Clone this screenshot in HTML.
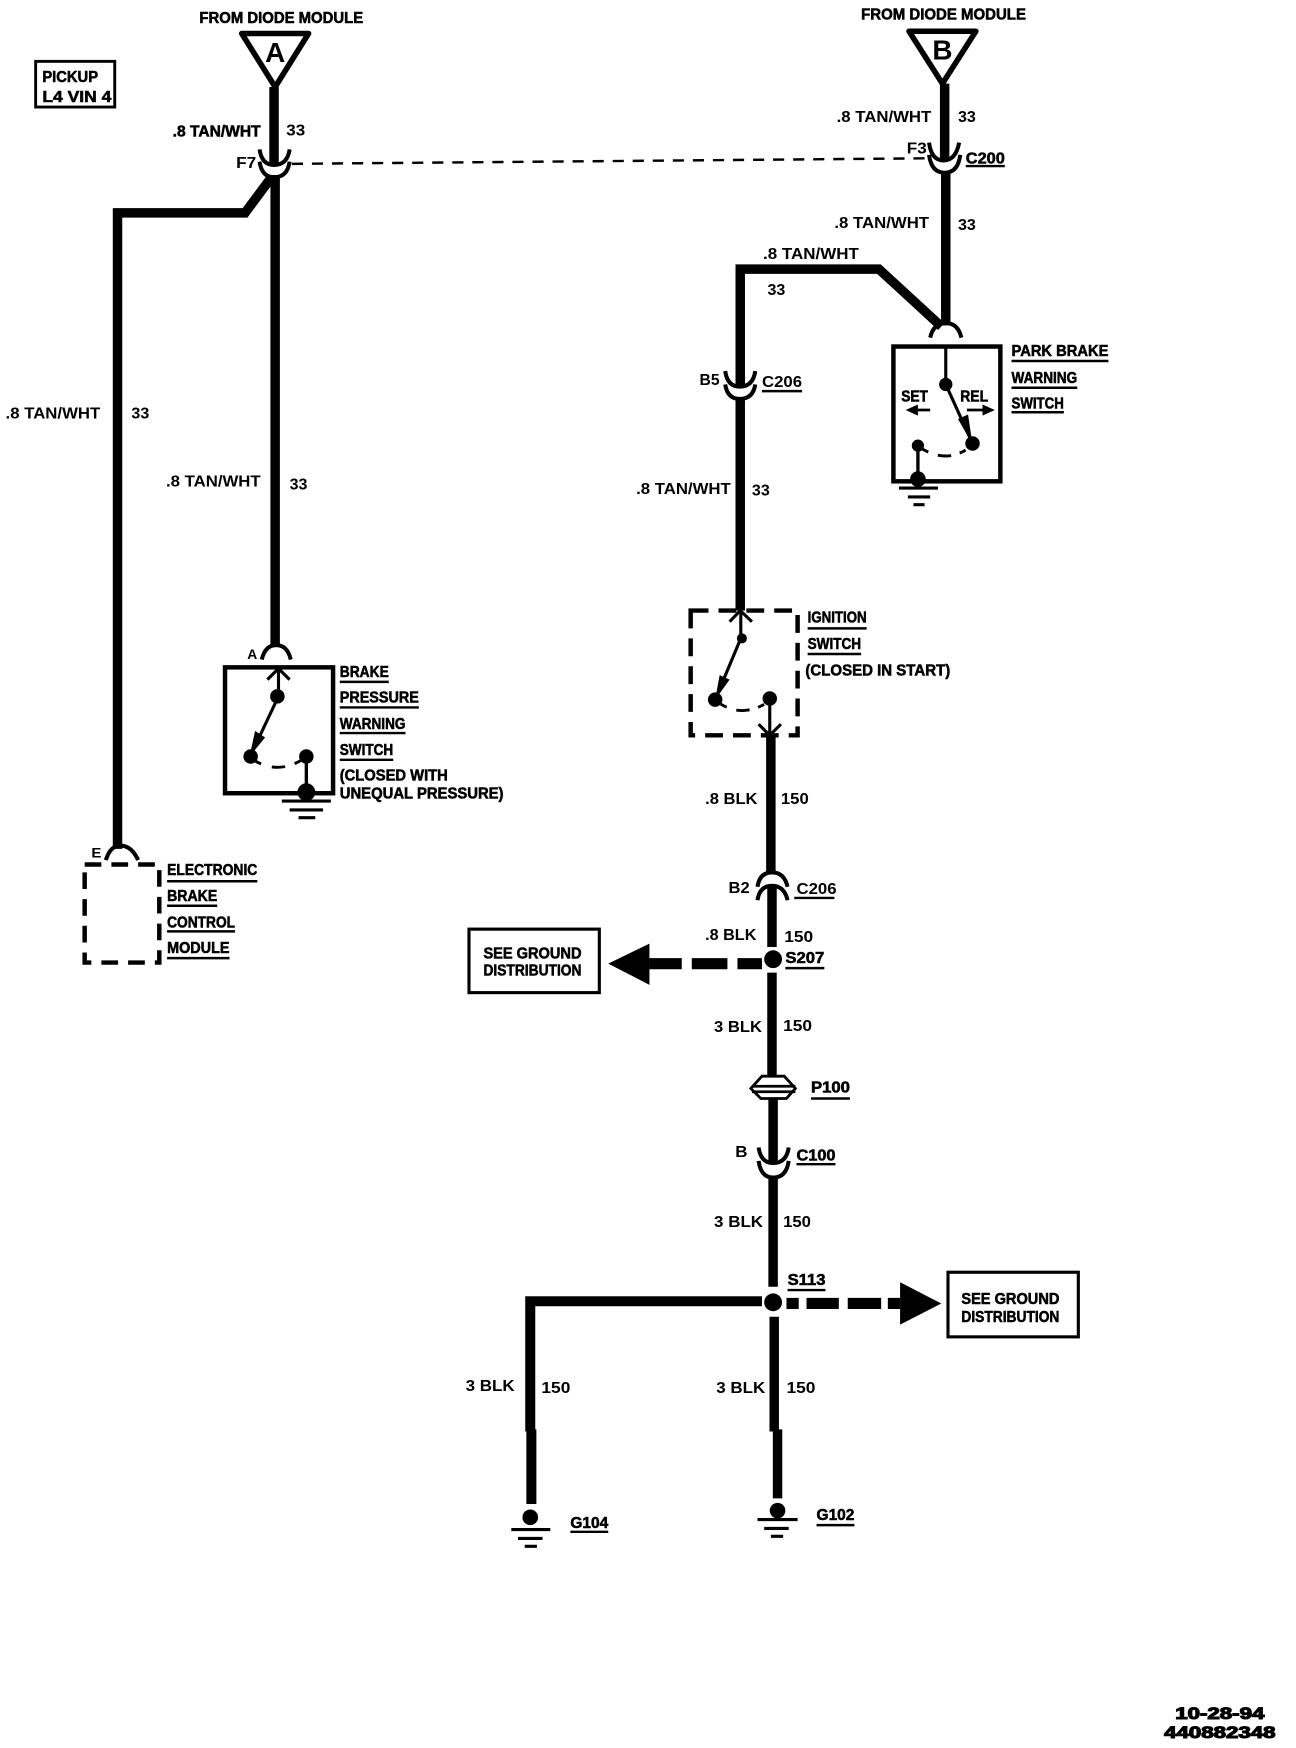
<!DOCTYPE html>
<html><head><meta charset="utf-8"><style>
html,body{margin:0;padding:0;background:#fff}
svg{display:block}
text{font-family:"Liberation Sans",sans-serif;font-weight:bold;fill:#000;dominant-baseline:central}
.w{font-size:14px;stroke:none;transform:translateY(1.5px)}
.l{font-size:14px;stroke:#000;stroke-width:.5;transform:translateY(1.5px)}
.wire{fill:none;stroke:#000;stroke-width:8.5;stroke-linejoin:miter}
.thin{fill:none;stroke:#000;stroke-width:2.5}
.cup{fill:none;stroke:#000;stroke-width:3.6}
.ul{stroke:#000;stroke-width:2.2}
.gnd{stroke:#000;stroke-width:2.8}
</style></head><body>
<svg width="1296" height="1748" viewBox="0 0 1163.4 1569" xmlns="http://www.w3.org/2000/svg">
<rect width="1164" height="1569" fill="#fff"/>

<!-- Source triangles and option box -->
<text class="l" x="179" y="15" textLength="147" lengthAdjust="spacingAndGlyphs">FROM DIODE MODULE</text>
<path d="M217 30H277L247 78Z" fill="none" stroke="#000" stroke-width="5" stroke-linejoin="round"/>
<text x="247" y="47" text-anchor="middle" style="font-size:25px">A</text>
<text class="l" x="773" y="12" textLength="148" lengthAdjust="spacingAndGlyphs">FROM DIODE MODULE</text>
<path d="M816 28H876L846 75Z" fill="none" stroke="#000" stroke-width="5" stroke-linejoin="round"/>
<text x="846" y="45" text-anchor="middle" style="font-size:25px">B</text>
<rect x="32" y="55" width="71" height="41" fill="none" stroke="#000" stroke-width="2.6"/>
<text class="l" x="38" y="68" textLength="50" lengthAdjust="spacingAndGlyphs">PICKUP</text>
<text class="l" x="38" y="86" textLength="62" lengthAdjust="spacingAndGlyphs">L4 VIN 4</text>

<!-- Left wires -->
<path class="wire" d="M246 78V147"/>
<path class="wire" d="M247 157V580"/>
<path class="wire" d="M243 160L220 191H105.500V762"/>
<path class="cup" d="M233 134Q235 148 246 148Q258 148 260 134"/>
<path class="cup" d="M233 145Q235 159 246 159Q258 159 260 145"/>
<text class="w" x="212" y="145" textLength="18" lengthAdjust="spacingAndGlyphs">F7</text>
<path d="M262 147L835 142" fill="none" stroke="#000" stroke-width="2.2" stroke-dasharray="10 8"/>

<text class="l" x="155" y="117" textLength="79" lengthAdjust="spacingAndGlyphs">.8 TAN/WHT</text>
<text class="w" x="257" y="116" textLength="17" lengthAdjust="spacingAndGlyphs">33</text>
<text class="w" x="5" y="370" textLength="85" lengthAdjust="spacingAndGlyphs">.8 TAN/WHT</text>
<text class="w" x="118" y="370" textLength="16" lengthAdjust="spacingAndGlyphs">33</text>
<text class="w" x="149" y="431" textLength="85" lengthAdjust="spacingAndGlyphs">.8 TAN/WHT</text>
<text class="w" x="260" y="434" textLength="16" lengthAdjust="spacingAndGlyphs">33</text>

<!-- Brake pressure switch -->
<path class="cup" d="M235 592Q238 579 248 579Q258 579 261 592"/>
<text class="w" x="222" y="586" textLength="9" lengthAdjust="spacingAndGlyphs" style="font-size:12px">A</text>
<rect x="202" y="599" width="97" height="113" fill="none" stroke="#000" stroke-width="4"/>
<path d="M240 610L250 600L260 610M250 600V625L225 678" fill="none" stroke="#000" stroke-width="2.8"/>
<path d="M224 679L229 656L238 662Z"/>
<circle cx="249" cy="625" r="6.500"/><circle cx="225" cy="679" r="6.500"/><circle cx="275" cy="679" r="6.500"/><circle cx="275" cy="711" r="8"/>
<path d="M275 679V711" stroke="#000" stroke-width="3"/>
<path d="M229 683Q250 695 271 682" fill="none" stroke="#000" stroke-width="2.6" stroke-dasharray="6 10 12 9 6"/>
<path class="gnd" d="M253 719H297M260 727H290M268 734H283"/>
<text class="l" x="305" y="602" textLength="44" lengthAdjust="spacingAndGlyphs">BRAKE</text><path class="ul" d="M305 612H349"/>
<text class="l" x="305" y="625" textLength="71" lengthAdjust="spacingAndGlyphs">PRESSURE</text><path class="ul" d="M305 635H376"/>
<text class="l" x="305" y="649" textLength="59" lengthAdjust="spacingAndGlyphs">WARNING</text><path class="ul" d="M305 658H364"/>
<text class="l" x="305" y="672" textLength="48" lengthAdjust="spacingAndGlyphs">SWITCH</text><path class="ul" d="M305 682H353"/>
<text class="l" x="305" y="695" textLength="97" lengthAdjust="spacingAndGlyphs">(CLOSED WITH</text>
<text class="l" x="305" y="711" textLength="147" lengthAdjust="spacingAndGlyphs">UNEQUAL PRESSURE)</text>

<!-- Electronic brake control module -->
<text class="w" x="82" y="764" textLength="9" lengthAdjust="spacingAndGlyphs" style="font-size:12px">E</text>
<path class="cup" d="M95 772Q99 759 108 759Q118 759 124 772"/>
<rect x="76" y="776" width="67" height="88" fill="none" stroke="#000" stroke-width="4" stroke-dasharray="15 9"/>
<text class="l" x="150" y="780" textLength="81" lengthAdjust="spacingAndGlyphs">ELECTRONIC</text><path class="ul" d="M150 791H231"/>
<text class="l" x="150" y="803" textLength="45" lengthAdjust="spacingAndGlyphs">BRAKE</text><path class="ul" d="M150 813H195"/>
<text class="l" x="150" y="827" textLength="61" lengthAdjust="spacingAndGlyphs">CONTROL</text><path class="ul" d="M150 836H211"/>
<text class="l" x="150" y="850" textLength="56" lengthAdjust="spacingAndGlyphs">MODULE</text><path class="ul" d="M150 860H206"/>

<!-- Right wires -->
<path class="wire" d="M848 75V144"/>
<path class="wire" d="M849 154V292"/>
<path class="cup" d="M834 128Q836 144 847 144Q858 144 861 128"/>
<path class="cup" d="M834 139Q836 155 848 155Q860 155 862 139"/>
<text class="w" x="814" y="132" textLength="18" lengthAdjust="spacingAndGlyphs">F3</text>
<text class="l" x="867" y="141" textLength="35" lengthAdjust="spacingAndGlyphs">C200</text><path class="ul" d="M867 149H902"/>
<text class="w" x="751" y="104" textLength="85" lengthAdjust="spacingAndGlyphs">.8 TAN/WHT</text>
<text class="w" x="860" y="104" textLength="16" lengthAdjust="spacingAndGlyphs">33</text>
<text class="w" x="749" y="199" textLength="85" lengthAdjust="spacingAndGlyphs">.8 TAN/WHT</text>
<text class="w" x="860" y="201" textLength="16" lengthAdjust="spacingAndGlyphs">33</text>
<text class="w" x="685" y="227" textLength="86" lengthAdjust="spacingAndGlyphs">.8 TAN/WHT</text>
<text class="w" x="689" y="259" textLength="16" lengthAdjust="spacingAndGlyphs">33</text>
<path class="wire" d="M845 293L789 241.500H664.500V347"/>
<path class="wire" d="M664.500 357V548"/>
<path class="cup" d="M835 303Q838 290 849 290Q860 290 863 303"/>
<path class="cup" d="M651 333Q653 347 664 347Q676 347 678 333"/>
<path class="cup" d="M651 345Q653 358 664 358Q676 358 678 345"/>
<text class="w" x="628" y="340" textLength="18" lengthAdjust="spacingAndGlyphs">B5</text>
<text class="w" x="684" y="342" textLength="36" lengthAdjust="spacingAndGlyphs">C206</text><path class="ul" d="M684 351H720"/>
<text class="w" x="571" y="438" textLength="85" lengthAdjust="spacingAndGlyphs">.8 TAN/WHT</text>
<text class="w" x="675" y="439" textLength="16" lengthAdjust="spacingAndGlyphs">33</text>

<!-- Park brake switch -->
<rect x="802" y="311" width="96" height="121" fill="none" stroke="#000" stroke-width="4"/>
<path d="M849 311V345L873 398" fill="none" stroke="#000" stroke-width="2.800"/>
<path d="M873 399L860 376L869 372Z"/>
<circle cx="849" cy="345" r="6"/><circle cx="873" cy="398" r="6.500"/><circle cx="824" cy="400" r="5.500"/><circle cx="824" cy="430" r="7"/>
<path d="M824 400V430" stroke="#000" stroke-width="3"/>
<path d="M828 403Q850 416 870 402" fill="none" stroke="#000" stroke-width="2.600" stroke-dasharray="6 9 12 8 6"/>
<text class="l" x="809" y="355" textLength="24" lengthAdjust="spacingAndGlyphs">SET</text>
<text class="l" x="862" y="355" textLength="25" lengthAdjust="spacingAndGlyphs">REL</text>
<path d="M835 368H820" stroke="#000" stroke-width="2.500"/><path d="M813 368L824 363V373Z"/>
<path d="M868 368H884" stroke="#000" stroke-width="2.500"/><path d="M893 368L882 363V373Z"/>
<path class="gnd" d="M807 438H842M815 446H835M820 453H830"/>
<text class="l" x="908" y="314" textLength="87" lengthAdjust="spacingAndGlyphs">PARK BRAKE</text><path class="ul" d="M908 324H995"/>
<text class="l" x="908" y="338" textLength="59" lengthAdjust="spacingAndGlyphs">WARNING</text><path class="ul" d="M908 348H967"/>
<text class="l" x="908" y="361" textLength="47" lengthAdjust="spacingAndGlyphs">SWITCH</text><path class="ul" d="M908 370H955"/>

<!-- Ignition switch -->
<rect x="620" y="548" width="96" height="112" fill="none" stroke="#000" stroke-width="4" stroke-dasharray="16 9"/>
<path d="M655 558L664.500 548L675 558M665 548V573L642 628" fill="none" stroke="#000" stroke-width="2.800"/>
<path d="M642 628L646 606L655 610Z"/>
<circle cx="666" cy="573" r="4.500"/><circle cx="642" cy="628" r="6.500"/><circle cx="691" cy="627" r="6.500"/>
<path d="M691 627V660M681 650L691 660L701 650" fill="none" stroke="#000" stroke-width="2.800"/>
<path d="M647 632Q667 644 688 631" fill="none" stroke="#000" stroke-width="2.600" stroke-dasharray="6 9 12 8 6"/>
<text class="l" x="725" y="553" textLength="53" lengthAdjust="spacingAndGlyphs">IGNITION</text><path class="ul" d="M725 564H778"/>
<text class="l" x="725" y="577" textLength="48" lengthAdjust="spacingAndGlyphs">SWITCH</text><path class="ul" d="M725 587H773"/>
<text class="l" x="723" y="601" textLength="130" lengthAdjust="spacingAndGlyphs">(CLOSED IN START)</text>

<!-- Main black wire -->
<path class="wire" d="M692 660V785"/>
<path class="wire" d="M693 796V850"/>
<path class="wire" d="M693 873V968"/>
<path class="wire" d="M694 985V1044"/>
<path class="wire" d="M694 1057V1155"/>
<path class="wire" d="M695 1182V1285"/>
<path class="wire" d="M698 1283V1345"/>
<text class="w" x="633" y="716" textLength="47" lengthAdjust="spacingAndGlyphs">.8 BLK</text>
<text class="w" x="701" y="716" textLength="25" lengthAdjust="spacingAndGlyphs">150</text>
<path class="cup" d="M680 796Q682 783 693 783Q704 783 707 796"/>
<path class="cup" d="M680 808Q682 795 693 795Q704 795 707 808"/>
<text class="w" x="654" y="796" textLength="19" lengthAdjust="spacingAndGlyphs">B2</text>
<text class="w" x="715" y="797" textLength="36" lengthAdjust="spacingAndGlyphs">C206</text><path class="ul" d="M713 806H749"/>
<text class="w" x="633" y="838" textLength="46" lengthAdjust="spacingAndGlyphs">.8 BLK</text>
<text class="w" x="704" y="840" textLength="26" lengthAdjust="spacingAndGlyphs">150</text>
<circle cx="694" cy="861" r="8"/>
<text class="l" x="705" y="859" textLength="35" lengthAdjust="spacingAndGlyphs">S207</text><path class="ul" d="M705 869H740"/>

<!-- S207 branch -->
<path d="M684 865H662M653 865H621M612 865H583" stroke="#000" stroke-width="10"/>
<path d="M546 865L583 847V884Z"/>
<rect x="421" y="834" width="117" height="57" fill="none" stroke="#000" stroke-width="2.800"/>
<text class="l" x="434" y="855" textLength="88" lengthAdjust="spacingAndGlyphs">SEE GROUND</text>
<text class="l" x="434" y="870" textLength="88" lengthAdjust="spacingAndGlyphs">DISTRIBUTION</text>

<text class="w" x="641" y="921" textLength="43" lengthAdjust="spacingAndGlyphs">3 BLK</text>
<text class="w" x="703" y="920" textLength="26" lengthAdjust="spacingAndGlyphs">150</text>

<!-- P100 -->
<path d="M684 966H704L714 977L706 986H683L674 977Z" fill="#fff" stroke="#000" stroke-width="2.500"/>
<path d="M675 975H714M675 980H714" stroke="#000" stroke-width="2.500"/>
<text class="l" x="728" y="975" textLength="35" lengthAdjust="spacingAndGlyphs">P100</text><path class="ul" d="M728 986H763"/>

<!-- C100 -->
<path class="cup" d="M681 1030Q683 1044 694 1044Q706 1044 708 1030"/>
<path class="cup" d="M681 1042Q683 1057 694 1057Q706 1057 708 1042"/>
<text class="w" x="660" y="1033" textLength="11" lengthAdjust="spacingAndGlyphs">B</text>
<text class="l" x="715" y="1036" textLength="35" lengthAdjust="spacingAndGlyphs">C100</text><path class="ul" d="M715 1045H750"/>
<text class="w" x="641" y="1096" textLength="44" lengthAdjust="spacingAndGlyphs">3 BLK</text>
<text class="w" x="703" y="1096" textLength="25" lengthAdjust="spacingAndGlyphs">150</text>

<!-- S113 -->
<circle cx="694" cy="1169" r="8"/>
<text class="l" x="707" y="1148" textLength="34" lengthAdjust="spacingAndGlyphs">S113</text><path class="ul" d="M707 1158H741"/>
<path class="wire" d="M684 1168H476V1285" style="stroke-width:9"/>
<path class="wire" d="M477 1283V1350" style="stroke-width:9"/>
<path d="M706 1170H717M724 1170H753M761 1170H791M797 1170H808" stroke="#000" stroke-width="10"/>
<path d="M845 1170L808 1151V1189Z"/>
<rect x="851" y="1142" width="117" height="58" fill="none" stroke="#000" stroke-width="2.800"/>
<text class="l" x="863" y="1165" textLength="88" lengthAdjust="spacingAndGlyphs">SEE GROUND</text>
<text class="l" x="863" y="1181" textLength="88" lengthAdjust="spacingAndGlyphs">DISTRIBUTION</text>
<text class="w" x="418" y="1243" textLength="44" lengthAdjust="spacingAndGlyphs">3 BLK</text>
<text class="w" x="486" y="1245" textLength="26" lengthAdjust="spacingAndGlyphs">150</text>
<text class="w" x="643" y="1245" textLength="44" lengthAdjust="spacingAndGlyphs">3 BLK</text>
<text class="w" x="706" y="1245" textLength="26" lengthAdjust="spacingAndGlyphs">150</text>

<!-- Grounds -->
<circle cx="476" cy="1362" r="7"/>
<path class="gnd" d="M459 1373H494M465 1381H487M471 1388H482"/>
<text class="l" x="512" y="1366" textLength="34" lengthAdjust="spacingAndGlyphs">G104</text><path class="ul" d="M512 1375H546"/>
<circle cx="698" cy="1356" r="7"/>
<path class="gnd" d="M680 1364H716M686 1372H708M692 1379H703"/>
<text class="l" x="733" y="1359" textLength="34" lengthAdjust="spacingAndGlyphs">G102</text><path class="ul" d="M733 1369H767"/>

<!-- Footer -->
<text x="1055" y="1538" textLength="80" lengthAdjust="spacingAndGlyphs" style="font-size:15px;stroke:#000;stroke-width:1">10-28-94</text>
<text x="1045" y="1555" textLength="100" lengthAdjust="spacingAndGlyphs" style="font-size:15px;stroke:#000;stroke-width:1">440882348</text>
</svg>
</body></html>
